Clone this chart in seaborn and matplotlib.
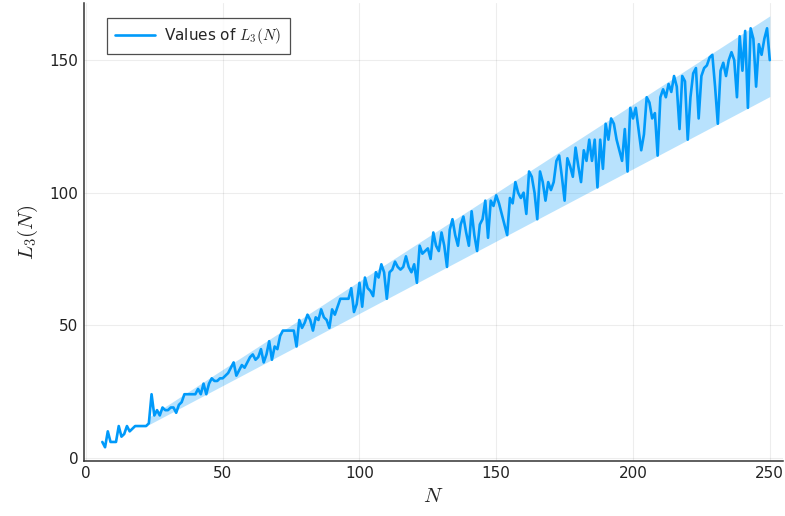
import numpy as np
import pandas as pd
import matplotlib
matplotlib.use("Agg")
import matplotlib.pyplot as plt
import seaborn as sns

# ---- data ----
N_start = 6
L3_values = [
    6, 4, 10, 6, 6, 6, 12, 8, 9, 12,            # 6-15
    10, 11, 12, 12, 12, 12, 12, 13, 24, 16,     # 16-25
    18, 16, 19, 18, 18, 19, 19, 17, 20, 21,     # 26-35
    24, 24, 24, 24, 24, 26, 24, 28, 24, 28,     # 36-45
    30, 29, 29, 30, 30, 31, 32, 34, 36, 31,     # 46-55
    33, 35, 34, 36, 38, 39, 37, 38, 41, 36,     # 56-65
    39, 44, 37, 42, 41, 46, 48, 48, 48, 48,     # 66-75
    48, 42, 52, 49, 51, 54, 52, 48, 53, 52,     # 76-85
    56, 53, 52, 49, 56, 54, 57, 60, 60, 60,     # 86-95
    60, 64, 55, 58, 66, 57, 68, 64, 63, 61,     # 96-105
    70, 68, 73, 70, 60, 70, 71, 74, 72, 71,     # 106-115
    72, 76, 72, 70, 73, 66, 80, 77, 78, 79,     # 116-125
    75, 85, 80, 78, 85, 80, 72, 86, 90, 84,     # 126-135
    80, 88, 91, 85, 80, 93, 84, 78, 88, 90,     # 136-145
    97, 83, 97, 95, 99, 96, 92, 88, 84, 98,     # 146-155
    96, 104, 100, 98, 100, 92, 108, 106, 100, 90,   # 156-165
    108, 104, 97, 104, 101, 104, 112, 114, 106, 97,  # 166-175
    113, 110, 106, 117, 110, 104, 116, 112, 120, 112, # 176-185
    120, 102, 120, 109, 126, 120, 128, 126, 120, 116, # 186-195
    112, 124, 108, 132, 128, 132, 124, 116, 122, 136, # 196-205
    134, 128, 130, 114, 136, 139, 136, 141, 138, 144, # 206-215
    140, 124, 144, 142, 120, 136, 145, 147, 128, 144, # 216-225
    147, 148, 151, 152, 140, 126, 146, 149, 144, 150, # 226-235
    153, 150, 136, 159, 146, 161, 132, 162, 158, 140, # 236-245
    156, 152, 158, 162, 150,                          # 246-250
]
N_values = list(range(N_start, N_start + len(L3_values)))

# band (ribbon) bounds: linear in N, starting at N = 23
band_start = 23
band_lo_slope = 0.545
band_hi_slope = 2 / 3

x_ticks = [0, 50, 100, 150, 200, 250]
y_ticks = [0, 50, 100, 150]

df = pd.DataFrame({"N": N_values, "L3": L3_values})

sns.set_theme(style="white")
plt.rcParams["font.family"] = ["DejaVu Sans"]
plt.rcParams["mathtext.fontset"] = "cm"

color = "#009AFA"
axis_color = "#333333"

fig = plt.figure(figsize=(7.85, 5.16), dpi=100)
ax = fig.add_axes([0.107, 0.107, 0.890, 0.887])

band_N = np.array([n for n in N_values if n >= band_start])
ax.fill_between(band_N, band_lo_slope * band_N, band_hi_slope * band_N,
                color=color, alpha=0.28, linewidth=0, zorder=1)

sns.lineplot(data=df, x="N", y="L3", ax=ax, color=color, linewidth=1.9,
             label=r"Values of $L_3(N)$", zorder=3)

ax.set_xlim(-0.7, 254.7)
ax.set_ylim(-1.1, 171.5)
ax.set_xticks(x_ticks)
ax.set_yticks(y_ticks)
ax.tick_params(axis="both", labelsize=11, colors=axis_color, labelcolor="#222222",
               direction="in", length=4, width=0.9, pad=4)
ax.grid(True, color="#000000", alpha=0.07, linewidth=0.8)

for s in ["top", "right"]:
    ax.spines[s].set_visible(False)
for s in ["left", "bottom"]:
    ax.spines[s].set_color(axis_color)
    ax.spines[s].set_linewidth(1.1)

ax.set_xlabel(r"$N$", fontsize=15, labelpad=3)
ax.set_ylabel(r"$L_3(N)$", fontsize=15, labelpad=7)

leg = ax.legend(loc="upper left", bbox_to_anchor=(0.022, 0.985), fontsize=11,
                frameon=True, fancybox=False, handlelength=2.6,
                borderpad=0.55, handletextpad=0.6)
leg.get_frame().set_edgecolor("#222222")
leg.get_frame().set_linewidth(0.9)

fig.savefig("out.png", dpi=100)
